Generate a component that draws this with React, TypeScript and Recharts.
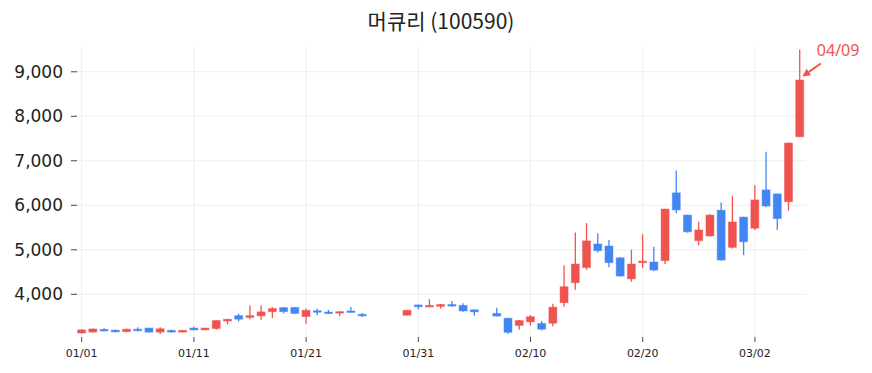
import React from 'react';
import { ComposedChart, Bar, XAxis, YAxis, CartesianGrid, ReferenceDot, Customized } from 'recharts';

const days = [0,1,2,3,4,5,6,7,8,9,10,11,12,13,14,15,16,17,18,19,20,21,22,23,24,25,29,30,31,32,33,34,35,37,38,39,40,41,42,43,44,45,46,47,48,49,50,51,52,53,54,55,56,57,58,59,60,61,62,63,64];
const opens = [3130,3150,3210,3195,3160,3215,3240,3150,3190,3150,3240,3200,3230,3400,3520,3480,3515,3610,3700,3705,3500,3630,3600,3580,3625,3550,3530,3760,3715,3730,3770,3750,3650,3570,3460,3300,3380,3345,3350,3810,4260,4600,5130,5085,4820,4345,4710,4725,4755,6280,5780,5205,5310,5890,5055,5735,5485,6345,6255,6080,7540];
const highs = [3215,3230,3235,3205,3230,3260,3250,3260,3200,3200,3270,3250,3415,3445,3565,3750,3750,3710,3710,3710,3680,3680,3650,3620,3715,3580,3645,3770,3890,3780,3850,3800,3660,3700,3470,3420,3530,3400,3790,4650,5390,5600,5370,5220,4830,5000,5350,5070,5920,6780,5790,5630,5800,6060,6215,5740,6450,7205,6260,7410,9500];
const lows = [3120,3140,3165,3145,3150,3170,3140,3110,3140,3145,3190,3195,3205,3320,3390,3440,3430,3470,3570,3565,3340,3530,3565,3510,3600,3490,3525,3665,3710,3680,3720,3610,3520,3500,3115,3205,3295,3190,3280,3720,4100,4550,4940,4610,4395,4280,4585,4520,4680,5820,5385,5100,5300,4755,5025,4880,5445,5955,5445,5880,7540];
const closes = [3200,3220,3180,3155,3215,3180,3150,3225,3150,3190,3200,3240,3410,3440,3440,3520,3605,3680,3610,3570,3640,3600,3570,3610,3605,3515,3640,3720,3750,3770,3735,3625,3605,3510,3145,3410,3495,3215,3710,4170,4680,5200,4980,4710,4410,4680,4745,4545,5915,5895,5405,5445,5780,4770,5625,5180,6120,5985,5700,7400,8815];

const xTicks = [0,10,20,30,40,50,60];
const xTickLabels = ['01/01','01/11','01/21','01/31','02/10','02/20','03/02'];
const yTicks = [4000,5000,6000,7000,8000,9000];

const TITLE = '머큐리 (100590)';
const ANNOTATION = '04/09';

const RED = '#EF5350';
const BLUE = '#4286F4';

const rows = days.map((d, i) => ({
  day: d,
  open: opens[i],
  high: highs[i],
  low: lows[i],
  close: closes[i],
  range: [lows[i], highs[i]],
}));

const Candle = (props: any) => {
  const { x, y, width, height, payload } = props;
  if (x == null || y == null) return null;
  const top = Math.min(y, y + height);
  const h = Math.abs(height);
  const { open, close, high, low } = payload;
  const k = high - low === 0 ? 0 : h / (high - low);
  const yo = top + (high - open) * k;
  const yc = top + (high - close) * k;
  const cx = x + width / 2;
  const up = close >= open;
  const color = up ? RED : BLUE;
  const bTop = Math.min(yo, yc);
  const bH = Math.max(Math.abs(yo - yc), 1.5);
  return (
    <g>
      <line x1={cx} x2={cx} y1={top} y2={top + h} stroke={color} strokeWidth={1.3} />
      <rect x={cx - 4} y={bTop} width={8} height={bH} fill={color} stroke={color} strokeOpacity={0.45} strokeWidth={1} />
    </g>
  );
};

const Title = () => (
  <text x={441} y={29} textAnchor="middle" fontFamily="'Noto Sans CJK KR', 'Noto Sans', sans-serif" fontSize={21} fill="#222">
    {TITLE}
  </text>
);

const Arrow = (props: any) => {
  const { cx, cy } = props;
  if (cx == null || cy == null) return null;
  const tx = cx + 2.5, ty = cy - 3.5;
  const sx = cx + 21, sy = cy - 16.5;
  const ang = Math.atan2(ty - sy, tx - sx);
  const L = 8, W = 4;
  const bx = tx - L * Math.cos(ang), by = ty - L * Math.sin(ang);
  const px = -Math.sin(ang) * W, py = Math.cos(ang) * W;
  return (
    <g>
      <line x1={sx} y1={sy} x2={bx} y2={by} stroke={RED} strokeWidth={2} />
      <polygon points={`${tx},${ty} ${bx + px},${by + py} ${bx - px},${by - py}`} fill={RED} />
      <text x={cx + 17} y={cy - 24} fontFamily="'Noto Sans', sans-serif" fontSize={16} fill={RED}>
        {ANNOTATION}
      </text>
    </g>
  );
};

export default function App() {
  return (
    <div style={{ position: 'absolute', left: 0, top: 0, background: '#fff' }}>
      <ComposedChart width={872} height={373} data={rows} margin={{ top: 47, right: 66, bottom: 0, left: 0 }}>
        <CartesianGrid stroke="#ededed" strokeWidth={1} syncWithTicks />
        <XAxis
          dataKey="day"
          type="number"
          domain={[-0.42, 64.55]}
          allowDataOverflow
          ticks={xTicks}
          tickFormatter={(v: number) => xTickLabels[xTicks.indexOf(v)] ?? ''}
          height={36}
          tickSize={5}
          tickMargin={7}
          axisLine={false}
          tickLine={{ stroke: '#444' }}
          tick={{ fontSize: 11, fill: '#222', fontFamily: "'DejaVu Sans', sans-serif" }}
          interval={0}
        />
        <YAxis
          type="number"
          domain={[3040, 9557]}
          allowDataOverflow
          ticks={yTicks}
          tickFormatter={(v: number) => v.toLocaleString('en-US')}
          width={77}
          tickSize={6}
          tickMargin={8}
          axisLine={false}
          tickLine={{ stroke: '#444' }}
          tick={{ fontSize: 17, fill: '#222', fontFamily: "'DejaVu Sans', sans-serif" }}
          interval={0}
        />
        <Bar dataKey="range" barSize={9} shape={Candle} isAnimationActive={false} />
        <ReferenceDot x={64} y={8815} r={0} shape={Arrow} />
        <Customized component={Title} />
      </ComposedChart>
    </div>
  );
}
